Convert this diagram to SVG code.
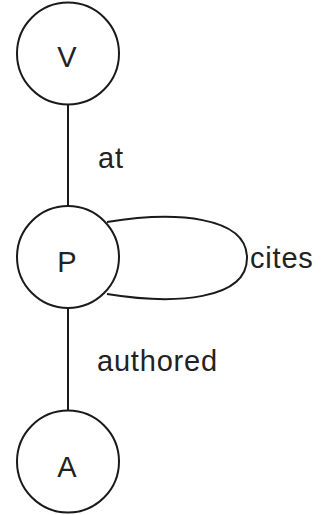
<svg xmlns="http://www.w3.org/2000/svg" width="323" height="515" viewBox="0 0 323 515">
  <style>
    .node circle { fill: #ffffff; stroke: #1a1a1a; stroke-width: 2; }
    .node text { font-family: "Liberation Sans", Arial, sans-serif; font-size: 29px; fill: #222222; text-anchor: middle; }
    .edge { fill: none; stroke: #1a1a1a; stroke-width: 2; }
    .label { font-family: "Liberation Sans", Arial, sans-serif; font-size: 29px; fill: #222222; letter-spacing: 0.8px; }
  </style>
  <rect width="323" height="515" fill="#ffffff"/>
  <g id="connectors">
    <line class="edge" x1="68" y1="104" x2="68" y2="206"/>
    <line class="edge" x1="68" y1="308" x2="68" y2="410"/>
    <path class="edge" d="M107,222 C175,211 247,216 247,258 C247,300 175,305 107,294"/>
    <text class="label" x="98" y="168">at</text>
    <text class="label" x="250" y="268">cites</text>
    <text class="label" x="97" y="371">authored</text>
  </g>
  <g id="node-V" class="node">
    <circle cx="68" cy="53.5" r="51"/>
    <text x="67" y="67">V</text>
  </g>
  <g id="node-P" class="node">
    <circle cx="68" cy="257" r="51"/>
    <text x="67" y="272">P</text>
  </g>
  <g id="node-A" class="node">
    <circle cx="68" cy="461.5" r="51"/>
    <text x="67" y="477">A</text>
  </g>
</svg>
